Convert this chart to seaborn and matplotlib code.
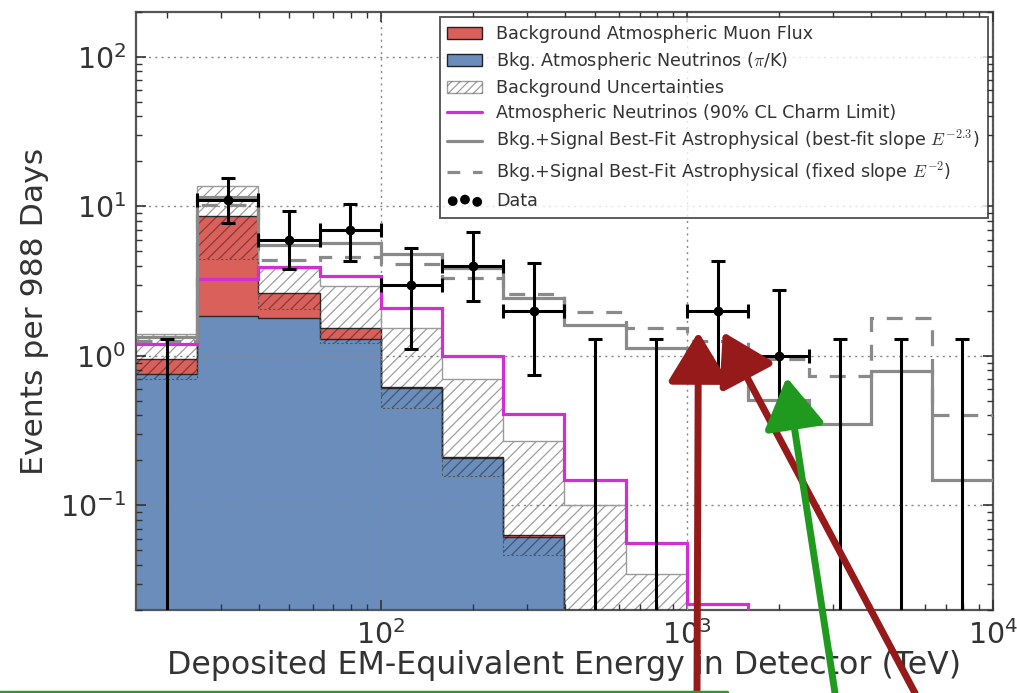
import numpy as np
import matplotlib
matplotlib.use("Agg")
import matplotlib.pyplot as plt
import seaborn as sns
from matplotlib.patches import Patch
from matplotlib.lines import Line2D
from matplotlib.font_manager import FontProperties

# ---- binned spectrum (deposited energy, TeV) ----
energy_edges = [15.85, 25.12, 39.81, 63.10, 100.0, 158.5, 251.2, 398.1,
                631.0, 1000.0, 1585.0, 2512.0, 3981.0, 6310.0, 10000.0]

atm_nu = [0.757, 1.86, 1.80, 1.30, 0.61, 0.207, 0.062, 0.015, 0.005,
          0.0016, 0.0006, 0.0002, 0.0001, 0.00005]
atm_mu = [0.198, 6.84, 0.85, 0.24, 0.01, 0.003, 0.001, 0.0, 0.0,
          0.0, 0.0, 0.0, 0.0, 0.0]
bkg_low = [0.70, 4.48, 2.07, 1.22, 0.45, 0.157, 0.047, 0.008, 0.003,
           0.001, 0.0004, 0.0001, 0.00005, 0.00002]
bkg_high = [1.40, 13.8, 3.9, 2.95, 1.54, 0.70, 0.269, 0.10, 0.035,
            0.012, 0.005, 0.002, 0.001, 0.0005]
charm_limit = [1.20, 3.29, 3.95, 3.44, 2.10, 1.00, 0.41, 0.149, 0.056,
               0.022, 0.008, 0.003, 0.001, 0.0005]
fit_best_slope = [1.35, 11.5, 5.5, 5.7, 4.8, 3.9, 2.45, 1.61, 1.13,
                  0.80, 0.51, 0.35, 0.79, 0.147]
fit_fixed_slope = [1.25, 10.2, 4.4, 4.6, 4.1, 3.34, 2.6, 1.97, 1.54,
                   1.25, 0.95, 0.73, 1.80, 0.40]

# observed events with 68% intervals (upper limit only where no events)
events = [0, 11, 6, 7, 3, 4, 2, 0, 0, 2, 1, 0, 0, 0]
events_lo = [0, 7.8, 3.8, 4.34, 1.11, 2.34, 0.75, 0, 0, 0.74, 0.37, 0, 0, 0]
events_hi = [1.29, 15.4, 9.4, 10.4, 5.3, 6.8, 4.2, 1.29, 1.29, 4.3, 2.77,
             1.29, 1.29, 1.29]

# hand-drawn highlight arrows: tip (TeV, events) and tail (figure pixels)
arrow_tips = [(1090, 1.45), (1310, 1.45), (2118, 0.72)]
arrow_tails = [(697, 0), (915, 0), (835, 0)]
arrow_colors = ["#961a1a", "#961a1a", "#1f9a1f"]

# ---- style ----
sns.set_theme(style="ticks")
plt.rcParams["font.family"] = ["DejaVu Sans"]
plt.rcParams["hatch.linewidth"] = 0.9

BLUE = "#6a8dbb"
RED = "#d9605b"
MAGENTA = "#d12fd1"
GRAY = "#8a8a8a"
HATCH = (0, 0, 0, 0.38)

edges = np.array(energy_edges)
nu = np.array(atm_nu)
total = nu + np.array(atm_mu)
centers = np.sqrt(edges[:-1] * edges[1:])
counts = np.array(events, dtype=float)
lo = np.array(events_lo)
hi = np.array(events_hi)

fig = plt.figure(figsize=(10.17, 6.93), dpi=100)
ax = fig.add_axes([0.1337, 0.1198, 0.8427, 0.8629])
ax.set_xscale("log")
ax.set_yscale("log")

floor = 1e-5
ax.stairs(nu, edges, baseline=floor, fill=True, color=BLUE, zorder=1)
ax.stairs(total, edges, baseline=nu, fill=True, color=RED, zorder=1)
ax.stairs(nu, edges, baseline=None, color="#2a2a2a", lw=1.0, zorder=2)
ax.stairs(total, edges, baseline=None, color="#2a2a2a", lw=1.0, zorder=2)

# background uncertainty band
ax.stairs(bkg_high, edges, baseline=bkg_low, fill=True, facecolor="none",
          edgecolor=HATCH, hatch="///", lw=0, zorder=3)
ax.stairs(bkg_high, edges, baseline=None, color="#9a9a9a", lw=1.0, zorder=3)
ax.stairs(bkg_low, edges, baseline=None, color="#555555", lw=0.8,
          ls=(0, (2, 2)), zorder=3)

# model curves
ax.stairs(charm_limit, edges, baseline=None, color=MAGENTA, lw=2.3, zorder=4)
ax.stairs(fit_best_slope, edges, baseline=None, color=GRAY, lw=2.3, zorder=4)
ax.stairs(fit_fixed_slope, edges, baseline=None, color=GRAY, lw=2.3,
          ls=(0, (5, 4)), zorder=4)

# data
seen = counts > 0
ax.errorbar(centers[seen], counts[seen],
            xerr=[centers[seen] - edges[:-1][seen], edges[1:][seen] - centers[seen]],
            yerr=[counts[seen] - lo[seen], hi[seen] - counts[seen]],
            fmt="o", color="black", ms=6, lw=2.2, capsize=5, capthick=2.2,
            zorder=6)
empty = ~seen
ax.errorbar(centers[empty], hi[empty],
            yerr=[hi[empty] - floor, np.zeros(empty.sum())],
            fmt="none", color="black", lw=2.2, capsize=5, capthick=2.2,
            zorder=6)

ax.set_xlim(edges[0], edges[-1])
ax.set_ylim(0.02, 200)
ax.set_xlabel("Deposited EM-Equivalent Energy in Detector (TeV)",
              fontsize=22.8, color="#333333", labelpad=0)
ax.set_ylabel("Events per 988 Days", fontsize=22.6, color="#333333", labelpad=8)
ax.tick_params(which="both", direction="in", top=True, right=True,
               colors="#333333", labelsize=20.5)
ax.tick_params(which="major", length=7, width=1.2, pad=7)
ax.tick_params(which="minor", length=4, width=1.0)
ax.set_yticks([0.1, 1, 10, 100])
ax.set_xticks([100, 1000, 10000])
ax.grid(True, which="major", ls=(0, (1.5, 3)), color="#888888", lw=1.0)
ax.set_axisbelow(False)
for s in ax.spines.values():
    s.set_color("#555555")
    s.set_linewidth(1.6)

# legend
data_proxy = ax.scatter([], [], c="black", s=36)
handles = [
    Patch(facecolor=RED, edgecolor="#222222"),
    Patch(facecolor=BLUE, edgecolor="#222222"),
    Patch(facecolor="white", edgecolor=HATCH, hatch="////"),
    Line2D([], [], color=MAGENTA, lw=2.3),
    Line2D([], [], color=GRAY, lw=2.3),
    Line2D([], [], color=GRAY, lw=2.3, ls=(0, (4, 4))),
    data_proxy,
]
labels = [
    "Background Atmospheric Muon Flux",
    r"Bkg. Atmospheric Neutrinos ($\pi$/K)",
    "Background Uncertainties",
    "Atmospheric Neutrinos (90% CL Charm Limit)",
    r"Bkg.+Signal Best-Fit Astrophysical (best-fit slope $E^{-2.3}$)",
    r"Bkg.+Signal Best-Fit Astrophysical (fixed slope $E^{-2}$)",
    "Data",
]
leg = ax.legend(handles, labels, loc="upper right", frameon=True,
                fancybox=False, prop=FontProperties(size=12.6, math_fontfamily="cm"),
                handlelength=2.0, handletextpad=0.8, labelspacing=0.40,
                borderpad=0.45, borderaxespad=0.3, scatterpoints=3)
leg.get_frame().set_edgecolor("#333333")
leg.get_frame().set_linewidth(1.4)
for t in leg.get_texts():
    t.set_color("#333333")
leg.set_zorder(10)

# highlight arrows
for tip, tail, col in zip(arrow_tips, arrow_tails, arrow_colors):
    ax.annotate("", xy=tip, xycoords="data", xytext=tail,
                textcoords="figure pixels", annotation_clip=False,
                arrowprops=dict(arrowstyle="-|>,head_length=1.4,head_width=0.85",
                                color=col, lw=5, mutation_scale=22,
                                shrinkA=0, shrinkB=0), zorder=12)

fig.add_artist(Line2D([0, 0.715], [0.002, 0.002], transform=fig.transFigure,
                      color="#2e9a2e", lw=2.5))

fig.savefig("out.png", dpi=100, facecolor="white")
